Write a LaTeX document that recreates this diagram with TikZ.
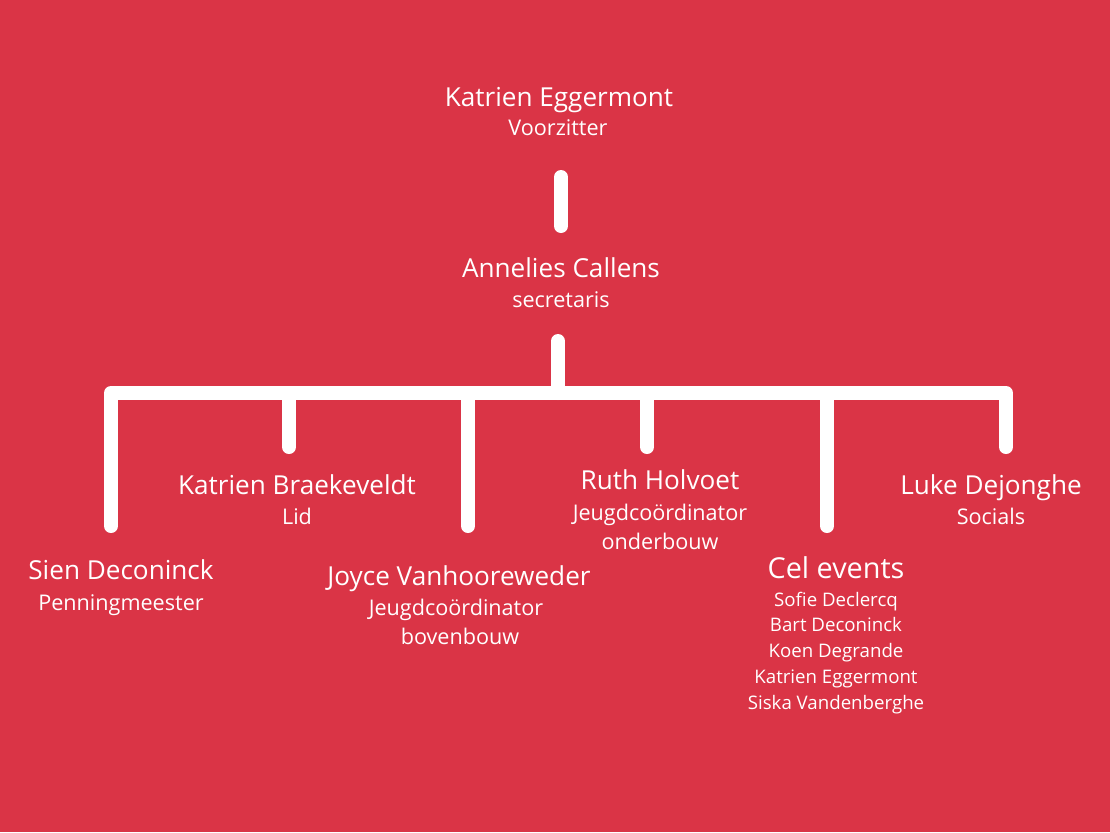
\documentclass[tikz,border=0pt]{standalone}
\usepackage{fontspec}
\setmainfont{Open Sans}
\definecolor{bgred}{RGB}{218,52,70}

\begin{document}
\begin{tikzpicture}[
				x=0.75pt, y=-0.75pt,
				every node/.style={text=white, inner sep=0pt, anchor=base},
				persontext/.style={font=\fontsize{19.6}{23}\selectfont},
				roletext/.style={font=\fontsize{16.2}{19}\selectfont},
				celtext/.style={font=\fontsize{21.6}{25}\selectfont},
				membertext/.style={font=\fontsize{14}{17}\selectfont},
				link/.style={draw=white, line width=10.5pt, line cap=round, line join=round}]

			\fill[bgred] (0,0) rectangle (1110,832);
			\useasboundingbox (0,0) rectangle (1110,832);

			% people
			\node[persontext] (eggermont) at (559,106) {Katrien Eggermont};
			\node[roletext] (voorzitter) at (558,135) {Voorzitter};
			\node[persontext] (callens) at (561,277) {Annelies Callens};
			\node[roletext] (secretaris) at (561,307) {secretaris};
			\node[persontext] (deconinck) at (121,579) {Sien Deconinck};
			\node[roletext] (penning) at (121,610) {Penningmeester};
			\node[persontext] (braekeveldt) at (297,494) {Katrien Braekeveldt};
			\node[roletext] (lid) at (297,524) {Lid};
			\node[persontext] (vanhoore) at (459,585) {Joyce Vanhooreweder};
			\node[roletext] (jeugdboven) at (456,615) {Jeugdcoördinator};
			\node[roletext] (bovenbouw) at (460,644) {bovenbouw};
			\node[persontext] (holvoet) at (660,489) {Ruth Holvoet};
			\node[roletext] (jeugdonder) at (660,520) {Jeugdcoördinator};
			\node[roletext] (onderbouw) at (660,549) {onderbouw};
			\node[persontext] (dejonghe) at (991,494) {Luke Dejonghe};
			\node[roletext] (socials) at (991,524) {Socials};
			\node[celtext] (celevents) at (836,578) {Cel events};
			\foreach \member [count=\i] in {Sofie Declercq, Bart Deconinck, Koen Degrande, Katrien Eggermont, Siska Vandenberghe}
				\node[membertext] (member\i) at (836,{606+25.8*(\i-1)}) {\member};

			% line ends
			\coordinate (top_a) at (561,177);
			\coordinate (top_b) at (561,226);
			\coordinate (mid_a) at (558,341);
			\coordinate (mid_b) at (558,393);
			\coordinate (bar_l) at (111,393);
			\coordinate (bar_r) at (1006,393);
			\coordinate (drop_sien) at (111,526);
			\coordinate (drop_lid) at (289,447);
			\coordinate (drop_joyce) at (468,526);
			\coordinate (drop_ruth) at (647,447);
			\coordinate (drop_cel) at (827,526);
			\coordinate (drop_luke) at (1006,447);

			\draw[link] (top_a) -- (top_b);
			\draw[link] (mid_a) -- (mid_b);
			\draw[link] (drop_sien) -- (bar_l) -- (bar_r) -- (drop_luke);
			\draw[link] (drop_lid |- bar_l) -- (drop_lid);
			\draw[link] (drop_joyce |- bar_l) -- (drop_joyce);
			\draw[link] (drop_ruth |- bar_l) -- (drop_ruth);
			\draw[link] (drop_cel |- bar_l) -- (drop_cel);

		\end{tikzpicture}
\end{document}
